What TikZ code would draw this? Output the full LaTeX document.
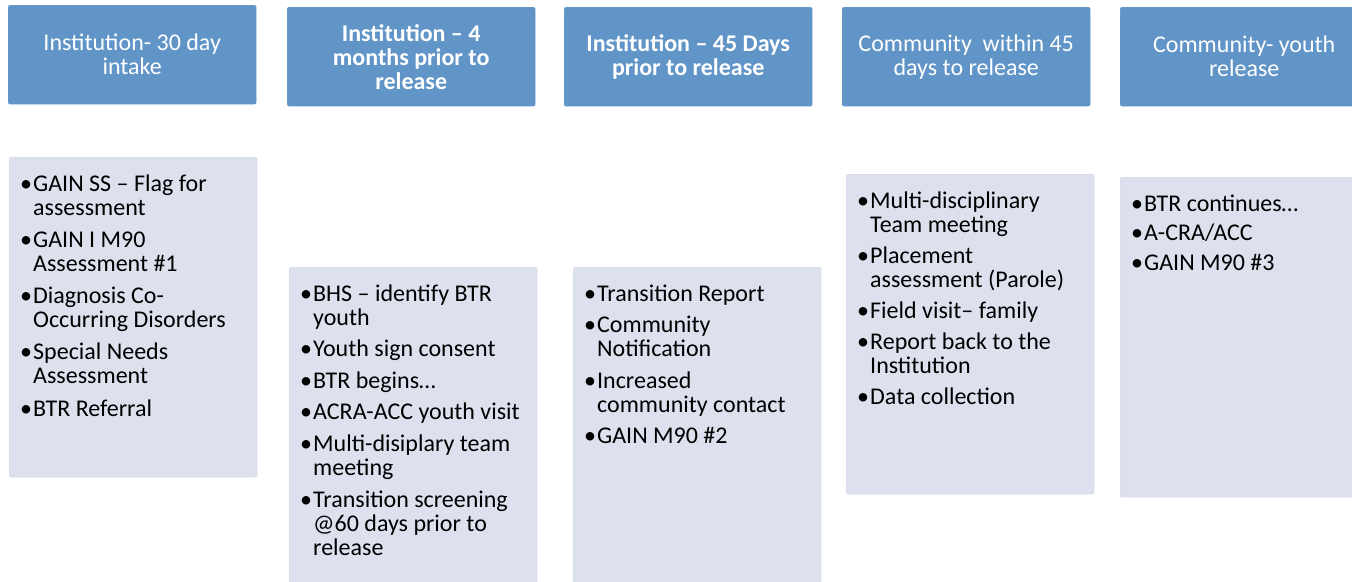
\documentclass[tikz,border=0pt]{standalone}
\usepackage{fontspec}
\setmainfont{Carlito}
\definecolor{headblue}{RGB}{97,149,200}
\definecolor{bodyfill}{RGB}{220,225,237}
\definecolor{bodyedge}{RGB}{212,218,231}
% bulleted list set in a top-aligned paragraph box; optional gap between items
\newcommand\blist[2][7.5pt]{\parbox[t]{236pt}{\setlength\parskip{#1}\raggedright #2}}
\newcommand\bitem[1]{\hangindent=13pt\hangafter=1\noindent\makebox[13pt][l]{\textbullet}#1\par}
\begin{document}
\begin{tikzpicture}[x=1pt,y=-1pt,
  head/.style={fill=headblue, draw=headblue!90!white, rounded corners=2pt,
    minimum width=248pt, minimum height=99pt, inner sep=0pt,
    text=white, align=center, font=\fontsize{24}{24}\selectfont},
  bodybox/.style={fill=bodyfill, draw=bodyedge, rounded corners=2pt,
    minimum width=248pt, minimum height=320pt, inner sep=0pt},
  bodytext/.style={anchor=base west, inner sep=0pt, text=black,
    font=\fontsize{24}{24}\selectfont}]
\useasboundingbox (0,0) rectangle (1352,581);
\clip (0,0) rectangle (1352,581);

% stage headers
\node[head, anchor=north west] (h1) at (8,5) {Institution- 30 day\\intake};
\node[head, anchor=north west] (h2) at (287,7) {\bfseries Institution -- 4\\\bfseries months prior to\\\bfseries release};
\node[head, anchor=north west] (h3) at (564,7) {\bfseries Institution -- 45 Days\\\bfseries prior to release};
\node[head, anchor=north west] (h4) at (842,7) {Community\ \ within 45\\days to release};
\node[head, anchor=north west] (h5) at (1120,7) {Community- youth\\release};

% activity boxes
\node[bodybox, anchor=north west] (b1) at (9,157) {};
\node[bodybox, anchor=north west] (b2) at (289,267) {};
\node[bodybox, anchor=north west] (b3) at (573,267) {};
\node[bodybox, anchor=north west] (b4) at (846,174) {};
\node[bodybox, anchor=north west] (b5) at (1120,177) {};

\node[bodytext] (t1) at ([shift={(11,34)}]b1.north west) {\blist[8.3pt]{%
  \bitem{GAIN SS -- Flag for\newline assessment}
  \bitem{GAIN I M90\newline Assessment \#1}
  \bitem{Diagnosis Co-\newline Occurring Disorders}
  \bitem{Special Needs\newline Assessment}
  \bitem{BTR Referral}}};

\node[bodytext] (t2) at ([shift={(11,34)}]b2.north west) {\blist[7.6pt]{%
  \bitem{BHS -- identify BTR\newline youth}
  \bitem{Youth sign consent}
  \bitem{BTR begins…}
  \bitem{ACRA-ACC youth visit}
  \bitem{Multi-disiplary team\newline meeting}
  \bitem{Transition screening\newline @60 days prior to\newline release}}};

\node[bodytext] (t3) at ([shift={(11,34)}]b3.north west) {\blist[7.5pt]{%
  \bitem{Transition Report}
  \bitem{Community\newline Notification}
  \bitem{Increased\newline community contact}
  \bitem{GAIN M90 \#2}}};

\node[bodytext] (t4) at ([shift={(11,34)}]b4.north west) {\blist[7.2pt]{%
  \bitem{Multi-disciplinary\newline Team meeting}
  \bitem{Placement\newline assessment (Parole)}
  \bitem{Field visit-- family}
  \bitem{Report back to the\newline Institution}
  \bitem{Data collection}}};

\node[bodytext] (t5) at ([shift={(11,34)}]b5.north west) {\blist[5.5pt]{%
  \bitem{BTR continues…}
  \bitem{A-CRA/ACC}
  \bitem{GAIN M90 \#3}}};
\end{tikzpicture}
\end{document}
